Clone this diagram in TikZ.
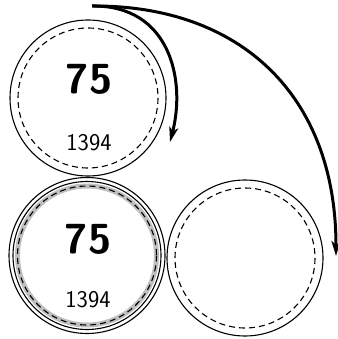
\documentclass[tikz,border=0pt]{standalone}
\usetikzlibrary{arrows.meta}
\begin{document}
\begin{tikzpicture}[x=1pt,y=-1pt,
  outer/.style={circle,draw=black,line width=1.1pt,minimum size=156pt,inner sep=0pt},
  dashring/.style={draw=black,line width=1.1pt,dash pattern=on 6pt off 4pt},
  grayband/.style={draw=gray!50,line width=5pt},
  big/.style={inner sep=0pt,font=\sffamily\bfseries\fontsize{42}{42}\selectfont},
  small/.style={inner sep=0pt,font=\sffamily\fontsize{24}{24}\selectfont},
  arr/.style={line width=3pt,-{Stealth[length=15pt,width=9pt,inset=4pt]}}]
\useasboundingbox (0,0) rectangle (337,339);
% top circle
\node[outer] (c1) at (88,98) {};
\draw[dashring] (c1.center) circle (70);
\node[big] (n1) at (89,79) {75};
\node[small] (m1) at (89,142.5) {1394};
% bottom-left circle
\node[outer] (c2) at (87,255.5) {};
\draw[line width=1.1pt] (c2.center) circle (74);
\draw[grayband] (c2.center) circle (69.5);
\draw[dashring] (c2.center) circle (69.5);
\node[big] (n2) at (88,239) {75};
\node[small] (m2) at (88,300) {1394};
% bottom-right circle
\node[outer] (c3) at (245,258) {};
\draw[dashring] (c3.center) circle (70);
% arrows
\coordinate (s) at (92,6);
\coordinate (e1) at (170,142);
\coordinate (e2) at (336,256);
\draw[arr] (s) .. controls (170,5) and (186,80) .. (e1);
\draw[arr] (s) .. controls (240,5) and (336,95) .. (e2);
\end{tikzpicture}
\end{document}
